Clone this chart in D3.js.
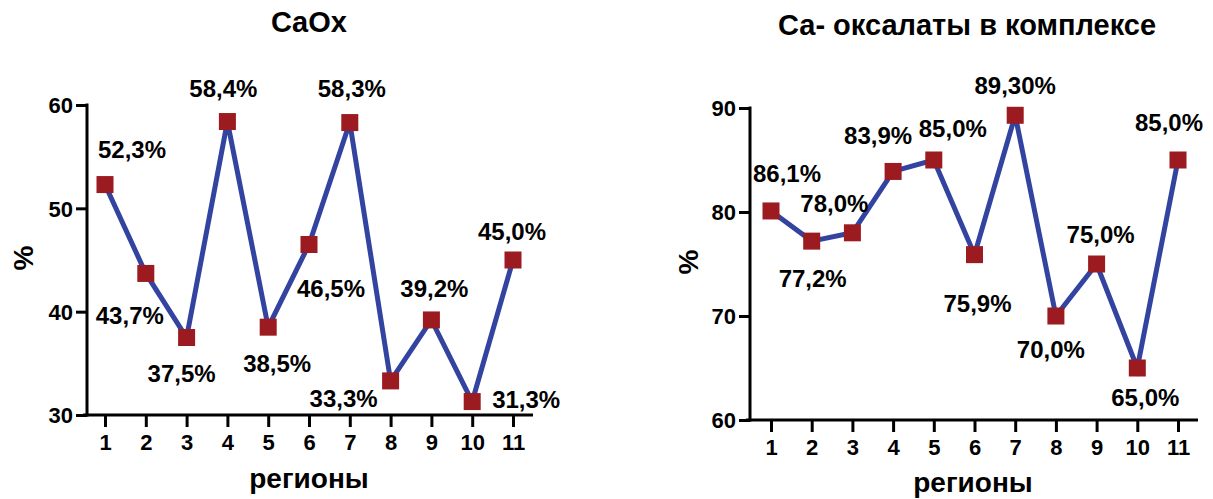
<!DOCTYPE html>
<html>
<head>
<meta charset="utf-8">
<script src="https://cdn.jsdelivr.net/npm/d3@7"></script>
<style>
  html, body { margin: 0; padding: 0; background: #fff; }
  svg { display: block; font-family: "Liberation Sans", Arial, Helvetica, sans-serif; font-weight: bold; }
</style>
</head>
<body>
<svg id="chart" width="1213" height="499"></svg>
<script>
// ---- data ----
const regions = [1, 2, 3, 4, 5, 6, 7, 8, 9, 10, 11];

const leftTitle = "CaOx";
const leftValues = [52.3, 43.7, 37.5, 58.4, 38.5, 46.5, 58.3, 33.3, 39.2, 31.3, 45.0];
const leftLabels = ["52,3%", "43,7%", "37,5%", "58,4%", "38,5%", "46,5%", "58,3%", "33,3%", "39,2%", "31,3%", "45,0%"];
const leftTicks = [30, 40, 50, 60];

const rightTitle = "Са- оксалаты в комплексе";
const rightValues = [80.1, 77.2, 78.0, 83.9, 85.0, 75.9, 89.3, 70.0, 75.0, 65.0, 85.0];
const rightLabels = ["86,1%", "77,2%", "78,0%", "83,9%", "85,0%", "75,9%", "89,30%", "70,0%", "75,0%", "65,0%", "85,0%"];
const rightTicks = [60, 70, 80, 90];

const xTitle = "регионы";
const yTitle = "%";

// ---- layout (label offsets relative to markers: [dx, dy]) ----
const leftOffsets = [[27,-27],[-16,51],[-5,44],[-4,-25],[9,45],[22,52],[2,-26],[-47,26],[3,-23],[54,6],[-1,-20]];
const rightOffsets = [[16,-29],[1,46],[-18,-21],[-15,-27],[19,-23],[3,57],[0,-21],[-5,42],[4,-21],[8,38],[-9,-29]];

const svg = d3.select("#chart");
const LINE = "#3343a0", MARK = "#9b1b21";
const FONT = "Liberation Sans, Arial, sans-serif";

function panel(cfg) {
  const g = svg.append("g");
  const x = d3.scaleLinear().domain([1, 11]).range([cfg.x0, cfg.x1]);
  const y = d3.scaleLinear().domain(cfg.yDomain).range([cfg.yBottom, cfg.yTop]);

  // title
  g.append("text").attr("x", cfg.titleX).attr("y", cfg.titleY)
    .attr("text-anchor", "middle").attr("font-size", 29).text(cfg.title);

  // y axis
  const ya = g.append("g").attr("transform", `translate(${cfg.yAxisX},0)`)
    .call(d3.axisLeft(y).tickValues(cfg.ticks).tickSize(11).tickPadding(3).tickSizeOuter(0));
  ya.select(".domain").remove();
  ya.selectAll(".tick line").attr("stroke", "#000").attr("stroke-width", 3);
  ya.selectAll(".tick text").attr("font-size", 22).attr("font-weight", "bold")
    .attr("font-family", FONT).attr("fill", "#000").attr("dy", "0.36em");
  g.append("line").attr("x1", cfg.yAxisX).attr("x2", cfg.yAxisX)
    .attr("y1", y(cfg.yDomain[1]) - 1.5).attr("y2", y(cfg.yDomain[0]) + 1.5)
    .attr("stroke", "#000").attr("stroke-width", 3);

  // x axis
  const xa = g.append("g").attr("transform", `translate(0,${cfg.yBottom})`)
    .call(d3.axisBottom(x).tickValues(regions).tickFormat(d3.format("d")).tickSize(12).tickPadding(7).tickSizeOuter(0));
  xa.select(".domain").remove();
  xa.selectAll(".tick line").attr("stroke", "#000").attr("stroke-width", 3);
  xa.selectAll(".tick text").attr("font-size", 22).attr("font-weight", "bold")
    .attr("font-family", FONT).attr("fill", "#000");
  g.append("line").attr("x1", cfg.yAxisX - 4).attr("x2", cfg.xAxisEnd)
    .attr("y1", cfg.yBottom).attr("y2", cfg.yBottom)
    .attr("stroke", "#000").attr("stroke-width", 3);

  // axis titles
  g.append("text").attr("x", cfg.xTitleX).attr("y", cfg.xTitleY)
    .attr("text-anchor", "middle").attr("font-size", 28).text(xTitle);
  g.append("text").attr("transform", `translate(${cfg.yTitleX},${cfg.yTitleY}) rotate(-90)`)
    .attr("text-anchor", "middle").attr("font-size", 28).text(yTitle);

  // line
  g.append("path").datum(cfg.values)
    .attr("d", d3.line().x((d, i) => x(regions[i])).y(d => y(d)))
    .attr("fill", "none").attr("stroke", LINE).attr("stroke-width", 5).attr("stroke-linejoin", "miter");

  // markers
  const s = 17;
  g.selectAll("rect.m").data(cfg.values).join("rect")
    .attr("x", (d, i) => x(regions[i]) - s / 2).attr("y", d => y(d) - s / 2)
    .attr("width", s).attr("height", s).attr("fill", MARK);

  // value labels
  g.selectAll("text.v").data(cfg.labels).join("text")
    .attr("x", (d, i) => x(regions[i]) + cfg.offsets[i][0])
    .attr("y", (d, i) => y(cfg.values[i]) + cfg.offsets[i][1])
    .attr("text-anchor", "middle").attr("font-size", 24).text(d => d);
}

panel({
  x0: 105, x1: 513, yDomain: [30, 60], yBottom: 415, yTop: 105, yAxisX: 87, xAxisEnd: 533,
  ticks: leftTicks, values: leftValues, labels: leftLabels, offsets: leftOffsets,
  title: leftTitle, titleX: 309, titleY: 32,
  xTitleX: 309, xTitleY: 488, yTitleX: 33, yTitleY: 258
});

panel({
  x0: 771, x1: 1178, yDomain: [60, 90], yBottom: 420, yTop: 108, yAxisX: 750, xAxisEnd: 1198,
  ticks: rightTicks, values: rightValues, labels: rightLabels, offsets: rightOffsets,
  title: rightTitle, titleX: 967, titleY: 35,
  xTitleX: 973, xTitleY: 492, yTitleX: 698, yTitleY: 262
});
</script>
</body>
</html>
